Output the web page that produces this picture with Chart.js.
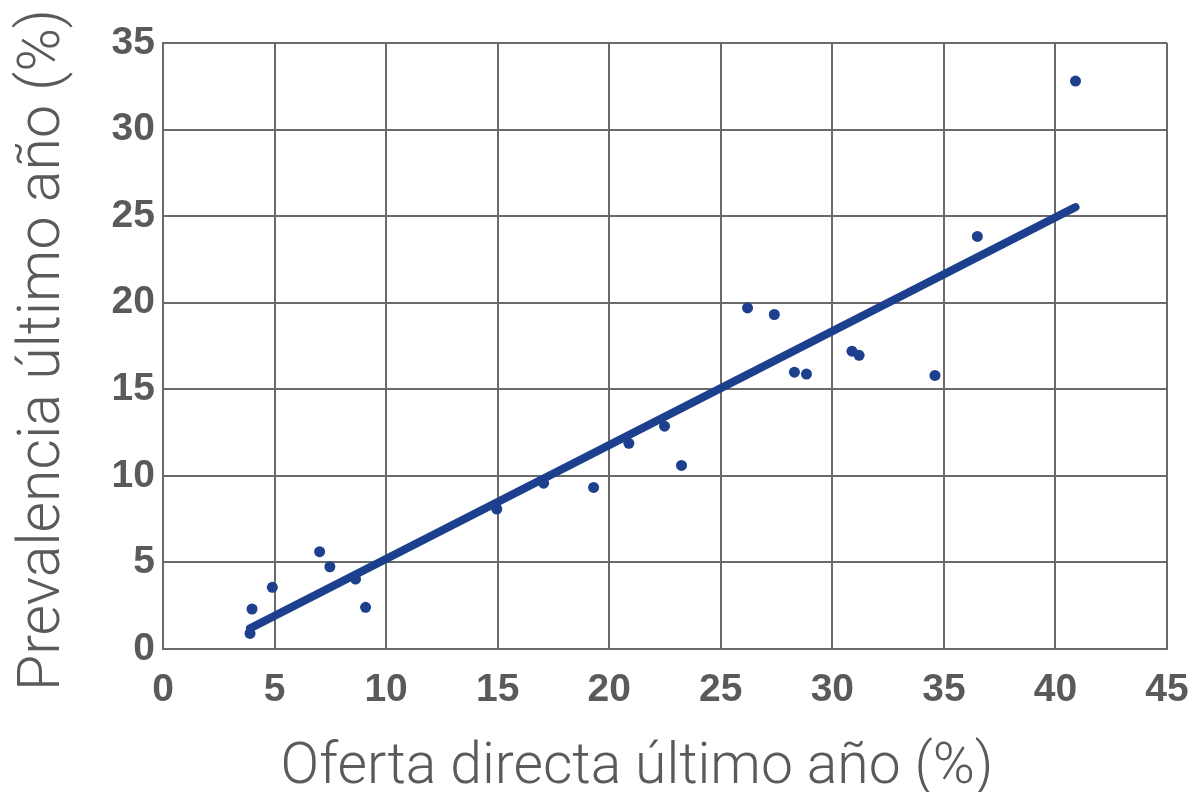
<!DOCTYPE html>
<html>
<head>
<meta charset="utf-8">
<script src="https://cdn.jsdelivr.net/npm/chart.js@4.4.1/dist/chart.umd.min.js"></script>
<style>
  html, body { margin: 0; padding: 0; background: #ffffff; }
  #wrap { width: 1193px; height: 792px; position: relative; }
</style>
</head>
<body>
<div id="wrap"><canvas id="c" width="1193" height="792"></canvas></div>
<script>
// Data
const ofertaX = [3.9, 3.99, 4.9, 7.02, 7.48, 8.63, 9.08, 14.96, 17.06, 19.3, 20.88, 22.48, 23.24,
                 26.2, 27.4, 28.3, 28.84, 30.88, 31.2, 34.6, 36.5, 40.9];
const prevalenciaY = [0.9, 2.31, 3.56, 5.62, 4.75, 4.04, 2.41, 8.08, 9.58, 9.33, 11.88, 12.87, 10.6,
                      19.7, 19.32, 15.99, 15.88, 17.2, 16.96, 15.8, 23.83, 32.8];
const trendX = [3.9, 40.9];
const trendY = [1.19, 25.52];
const xTicks = [0, 5, 10, 15, 20, 25, 30, 35, 40, 45];
const yTicks = [0, 5, 10, 15, 20, 25, 30, 35];
const xTitle = 'Oferta directa último año (%)';
const yTitle = 'Prevalencia último año (%)';

const blue = '#1c3f8e';
const gridGray = '#6a6a6a';
const textGray = '#5a5a5a';

const scatterPts = ofertaX.map((x, i) => ({ x: x, y: prevalenciaY[i] }));
const trendPts = trendX.map((x, i) => ({ x: x, y: trendY[i] }));

// axis titles drawn as canvas text at the reference positions
const axisTitles = {
  id: 'axisTitles',
  afterDraw(chart) {
    const ctx = chart.ctx;
    ctx.save();
    ctx.fillStyle = textGray;
    ctx.textAlign = 'center';
    ctx.textBaseline = 'alphabetic';
    ctx.font = '300 57px Roboto, "DejaVu Sans", sans-serif';
    ctx.fillText(xTitle, 637, 783);
    ctx.font = '300 59px Roboto, "DejaVu Sans", sans-serif';
    ctx.translate(59, 350);
    ctx.rotate(-Math.PI / 2);
    ctx.fillText(yTitle, 0, 0);
    ctx.restore();
  }
};

new Chart(document.getElementById('c'), {
  type: 'scatter',
  data: {
    datasets: [
      {
        type: 'line',
        data: trendPts,
        borderColor: blue,
        borderWidth: 8,
        borderCapStyle: 'round',
        pointRadius: 0,
        fill: false,
        order: 2
      },
      {
        type: 'scatter',
        data: scatterPts,
        backgroundColor: blue,
        borderColor: blue,
        pointRadius: 5.5,
        pointBorderWidth: 0,
        order: 1
      }
    ]
  },
  options: {
    responsive: false,
    animation: false,
    devicePixelRatio: 1,
    layout: { padding: { top: 43, right: 4, left: 0, bottom: 0 } },
    plugins: { legend: { display: false }, tooltip: { enabled: false } },
    scales: {
      x: {
        type: 'linear',
        min: 0, max: 45,
        afterBuildTicks: (s) => { s.ticks = xTicks.map(v => ({ value: v })); },
        grid: { color: gridGray, lineWidth: 2, drawTicks: false },
        border: { color: gridGray, width: 2 },
        ticks: {
          color: textGray,
          padding: 18,
          maxRotation: 0,
          font: { family: 'Liberation Sans', weight: 'bold', size: 39 }
        },
        afterFit: (s) => { s.height = 143; s.paddingRight = 26; s.paddingLeft = 0; }
      },
      y: {
        type: 'linear',
        min: 0, max: 35,
        afterBuildTicks: (s) => { s.ticks = yTicks.map(v => ({ value: v })); },
        grid: { color: gridGray, lineWidth: 2, drawTicks: false },
        border: { color: gridGray, width: 2 },
        ticks: {
          color: textGray,
          padding: 8,
          font: { family: 'Liberation Sans', weight: 'bold', size: 39 }
        },
        afterFit: (s) => { s.width = 163; }
      }
    }
  },
  plugins: [axisTitles]
});
</script>
</body>
</html>
